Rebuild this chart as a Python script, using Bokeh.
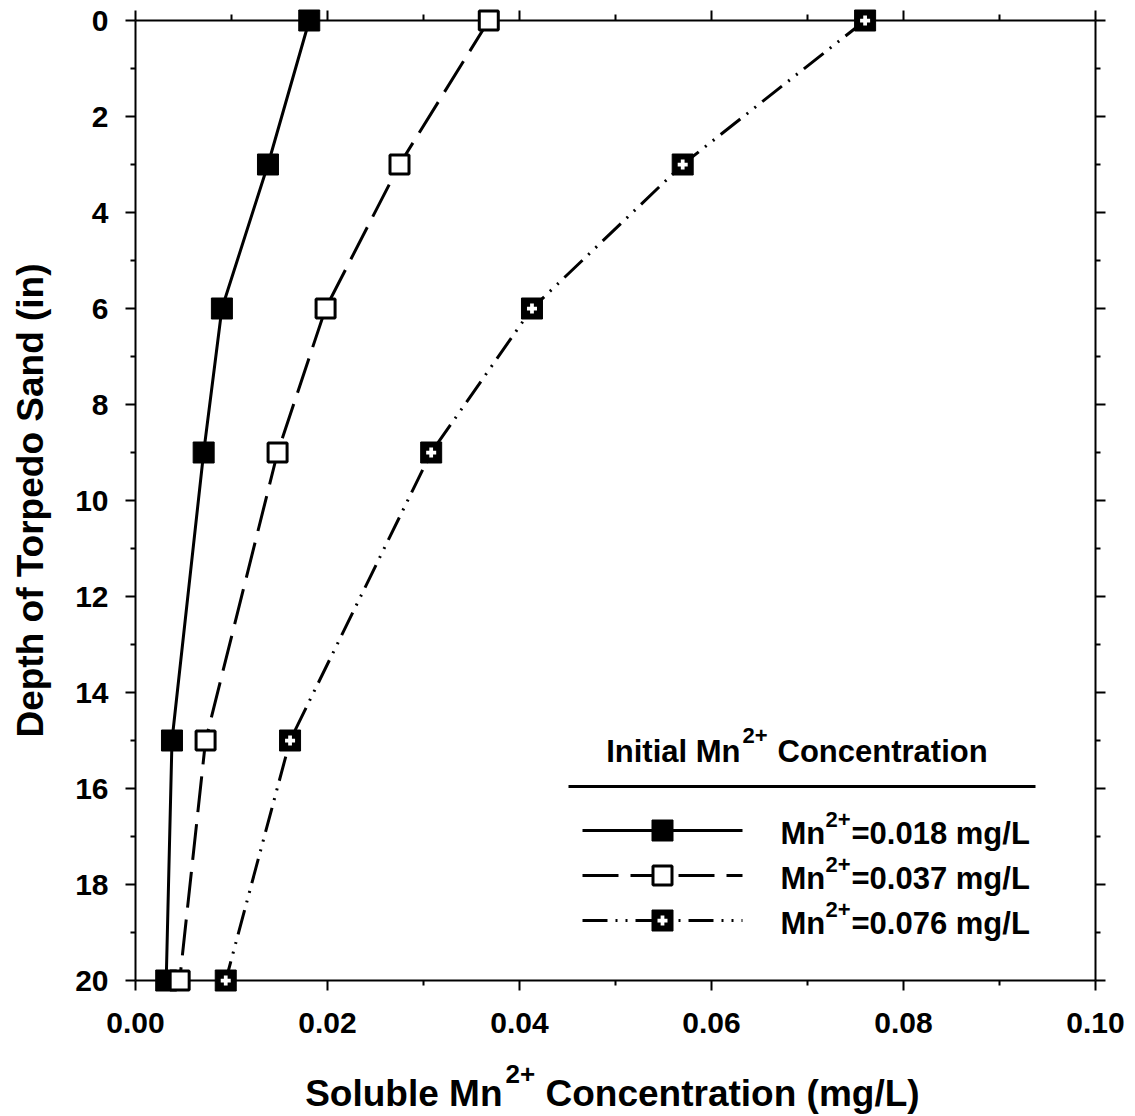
from bokeh.plotting import figure
from bokeh.models import Range1d, LinearAxis, FixedTicker, Label, NumeralTickFormatter, CustomJSTickFormatter
from bokeh.layouts import column
from bokeh.embed import file_html
from bokeh.resources import INLINE

# ---------------- data ----------------
depth = [0, 3, 6, 9, 15, 20]
mn_018 = [0.0181, 0.0138, 0.0090, 0.0071, 0.0038, 0.0032]
mn_037 = [0.0368, 0.0275, 0.0198, 0.0148, 0.0073, 0.0046]
mn_076 = [0.0760, 0.0570, 0.0413, 0.0308, 0.0161, 0.0094]

series_names = ["=0.018 mg/L", "=0.037 mg/L", "=0.076 mg/L"]
x_ticks = [0.0, 0.02, 0.04, 0.06, 0.08, 0.10]
x_minor = [0.01, 0.03, 0.05, 0.07, 0.09]
y_ticks = [0, 2, 4, 6, 8, 10, 12, 14, 16, 18, 20]
y_minor = [1, 3, 5, 7, 9, 11, 13, 15, 17, 19]
x_title = ["Soluble Mn", "2+", "Concentration (mg/L)"]
y_title = "Depth of Torpedo Sand (in)"
legend_title = ["Initial Mn", "2+", "Concentration"]

# ---------------- layout ----------------
FONT = "Liberation Sans"
W, H = 1135, 1116
XPX0, XPX1 = 135, 1095
YPX0, YPX1 = 20, 980
XMAX, YMAX = 0.1, 20
H1 = 1055          # height of the main figure
ux = XMAX / (XPX1 - XPX0)
uy = YMAX / (YPX1 - YPX0)


def dx(px):
    return (px - XPX0) * ux


def dy(py):
    return (py - YPX0) * uy


p = figure(width=W, height=H1, output_backend="svg", toolbar_location=None,
           x_range=Range1d(0, XMAX), y_range=Range1d(YMAX, 0),
           x_axis_location=None, y_axis_location=None,
           min_border_left=XPX0, min_border_right=W - XPX1,
           min_border_top=YPX0, min_border_bottom=H1 - YPX1)
p.outline_line_color = None
p.grid.visible = False
p.background_fill_color = "white"
p.border_fill_color = "white"

xt = FixedTicker(ticks=x_ticks, minor_ticks=x_minor)
yt = FixedTicker(ticks=y_ticks, minor_ticks=y_minor)
blank = CustomJSTickFormatter(code="return ''")


def style_axis(ax, minor=5):
    ax.axis_line_width = 2
    ax.axis_line_color = "black"
    ax.major_tick_line_width = 2
    ax.minor_tick_line_width = 2
    ax.major_tick_line_color = "black"
    ax.minor_tick_line_color = "black"
    ax.major_tick_out = 10
    ax.major_tick_in = 0
    ax.minor_tick_out = minor
    ax.minor_tick_in = 0
    ax.major_label_text_color = "black"
    ax.axis_label_text_color = "black"


def ticks_only(ax):
    ax.formatter = blank
    ax.major_label_text_color = None
    ax.major_label_standoff = 0


xb = LinearAxis(ticker=xt, formatter=NumeralTickFormatter(format="0.00"))
style_axis(xb)
xb.major_label_text_font = FONT
xb.major_label_text_font_style = "bold"
xb.major_label_text_font_size = "30px"
xb.major_label_standoff = 22
p.add_layout(xb, "below")

xtop = LinearAxis(ticker=xt)
style_axis(xtop, minor=6)
ticks_only(xtop)
p.add_layout(xtop, "above")

yl = LinearAxis(ticker=yt)
style_axis(yl)
yl.major_label_text_font = FONT
yl.major_label_text_font_style = "bold"
yl.major_label_text_font_size = "30px"
yl.major_label_standoff = 17
yl.axis_label = y_title
yl.axis_label_text_font = FONT
yl.axis_label_text_font_style = "bold"
yl.axis_label_text_font_size = "37px"
yl.axis_label_standoff = 21
p.add_layout(yl, "left")

yr = LinearAxis(ticker=yt)
style_axis(yr)
ticks_only(yr)
p.add_layout(yr, "right")

# ---------------- series ----------------
DASH2 = "36 12"
DASH3 = "25 8 2 8 2 8"
LV = "overlay"   # draw above the frame clip so edge markers stay whole
p.line(mn_018, depth, line_color="black", line_width=3, level=LV)
p.line(mn_037, depth, line_color="black", line_width=3, line_dash=DASH2, level=LV)
p.line(mn_076, depth, line_color="black", line_width=3, line_dash=DASH3, level=LV)

MS = 21
p.scatter(mn_018, depth, marker="square", size=MS, fill_color="black", line_color="black", line_width=1, level=LV)
p.scatter(mn_037, depth, marker="square", size=MS - 2, fill_color="white", line_color="black", line_width=3, level=LV)
p.scatter(mn_076, depth, marker="square", size=MS, fill_color="black", line_color="black", line_width=1, level=LV)
p.scatter(mn_076, depth, marker="plus", size=10, fill_color="white", line_color=None, level=LV)


# ---------------- text helpers (baseline placement) ----------------
def txt(fig, x, y, t, size, align="left"):
    fig.add_layout(Label(x=x, y=y - 0.35 * size, text=t, text_font=FONT, text_font_style="bold",
                         text_font_size=f"{size}px", text_align=align,
                         text_baseline="alphabetic", text_color="black"))


def ltxt(px, py, t, size, align="left"):
    fig_y = py - 0.35 * size
    p.add_layout(Label(x=dx(px), y=dy(fig_y), text=t, text_font=FONT, text_font_style="bold",
                       text_font_size=f"{size}px", text_align=align,
                       text_baseline="alphabetic", text_color="black"))


# ---------------- legend ----------------
ltxt(740, 762, legend_title[0], 31, "right")
ltxt(742, 743, legend_title[1], 22, "left")
ltxt(777, 762, legend_title[2], 31, "left")
p.line([dx(568), dx(1035)], [dy(786), dy(786)], line_color="black", line_width=3)

leg_y = [830, 875, 920]
dashes = ["solid", DASH2, DASH3]
for i, (ly, dsh) in enumerate(zip(leg_y, dashes)):
    p.line([dx(582), dx(742)], [dy(ly), dy(ly)], line_color="black", line_width=3, line_dash=dsh)
    ltxt(780, ly + 14, "Mn", 31, "left")
    ltxt(825, ly - 3, "2+", 22, "left")
    ltxt(851, ly + 14, series_names[i], 31, "left")

p.scatter([dx(662)], [dy(leg_y[0])], marker="square", size=MS, fill_color="black", line_color="black")
p.scatter([dx(662)], [dy(leg_y[1])], marker="square", size=MS - 2, fill_color="white", line_color="black", line_width=3)
p.scatter([dx(662)], [dy(leg_y[2])], marker="square", size=MS, fill_color="black", line_color="black")
p.scatter([dx(662)], [dy(leg_y[2])], marker="plus", size=10, fill_color="white", line_color=None)

# ---------------- x axis title strip (canvas pixel coordinates) ----------------
p2 = figure(width=W, height=H - H1, output_backend="svg", toolbar_location=None,
            x_range=Range1d(XPX0, XPX1), y_range=Range1d(H, H1),
            x_axis_location=None, y_axis_location=None,
            min_border_left=XPX0, min_border_right=W - XPX1,
            min_border_top=0, min_border_bottom=0)
p2.outline_line_color = None
p2.grid.visible = False
p2.background_fill_color = "white"
p2.border_fill_color = "white"
txt(p2, 502, 1106, x_title[0], 37, "right")
txt(p2, 505, 1083, x_title[1], 26, "left")
txt(p2, 545, 1106, x_title[2], 37, "left")

open("out.html", "w").write(file_html(column(p, p2, spacing=0), INLINE))
